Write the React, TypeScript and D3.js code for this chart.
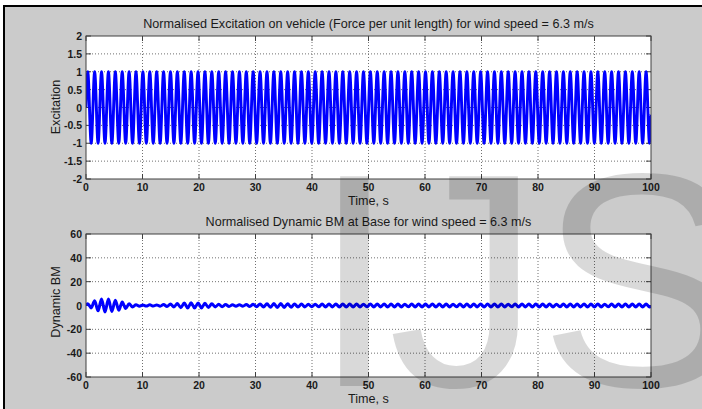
import React from "react";
import * as d3 from "d3";

// ---- data ----
const timeTicks = [0, 10, 20, 30, 40, 50, 60, 70, 80, 90, 100];
const excitationTicks = [-2, -1.5, -1, -0.5, 0, 0.5, 1, 1.5, 2];
const bmTicks = [-60, -40, -20, 0, 20, 40, 60];

// times (s) of the crests and troughs of the forcing cycle
const peakTimes = [
  0.31, 1.53, 2.75, 3.97, 5.19, 6.41, 7.63, 8.85, 10.07, 11.29, 12.51, 13.73, 14.95, 16.17,
  17.39, 18.61, 19.83, 21.05, 22.27, 23.49, 24.71, 25.93, 27.15, 28.37, 29.59, 30.81, 32.03,
  33.25, 34.47, 35.69, 36.91, 38.13, 39.35, 40.57, 41.79, 43.01, 44.23, 45.45, 46.67, 47.89,
  49.11, 50.33, 51.55, 52.77, 53.99, 55.21, 56.43, 57.65, 58.87, 60.09, 61.31, 62.53, 63.75,
  64.97, 66.19, 67.41, 68.63, 69.85, 71.07, 72.29, 73.51, 74.73, 75.95, 77.17, 78.39, 79.61,
  80.83, 82.05, 83.27, 84.49, 85.71, 86.93, 88.15, 89.37, 90.59, 91.81, 93.03, 94.25, 95.47,
  96.69, 97.91, 99.13,
];
const troughTimes = [
  0.92, 2.14, 3.36, 4.58, 5.8, 7.02, 8.24, 9.46, 10.68, 11.9, 13.12, 14.34, 15.56, 16.78,
  18.0, 19.22, 20.44, 21.66, 22.88, 24.1, 25.32, 26.54, 27.76, 28.98, 30.2, 31.42, 32.64,
  33.86, 35.08, 36.3, 37.52, 38.74, 39.96, 41.18, 42.4, 43.62, 44.84, 46.06, 47.28, 48.5,
  49.72, 50.94, 52.16, 53.38, 54.6, 55.82, 57.04, 58.26, 59.48, 60.7, 61.92, 63.14, 64.36,
  65.58, 66.8, 68.02, 69.24, 70.46, 71.68, 72.9, 74.12, 75.34, 76.56, 77.78, 79.0, 80.22,
  81.44, 82.66, 83.88, 85.1, 86.32, 87.54, 88.76, 89.98, 91.2, 92.42, 93.64, 94.86, 96.08,
  97.3, 98.52, 99.74,
];
const excitationCrest = 1;
const excitationTrough = -1;
const excitationStart = 0;
const excitationEnd = -0.2;

// dynamic bending moment at the crest / trough of each cycle
const bmPeakValues = [
  1.5, 4, 5.5, 5.5, 4.5, 3, 1.5, 0.6, 0.4, 0.6, 0.5, 0.8, 1.2, 1.6, 2.0, 2.3, 2.2, 1.8, 1.4,
  1.0, 0.8, 0.6, 0.6, 0.8, 1.0, 1.3, 1.5, 1.6, 1.6, 1.5, 1.3, 1.2, 1.0, 1.1, 1.2, 1.2, 1.3,
  1.3, 1.2, 1.2, 1.1, 1.2, 1.2, 1.3, 1.2, 1.2, 1.1, 1.2, 1.2, 1.2, 1.3, 1.2, 1.2, 1.1, 1.2,
  1.2, 1.2, 1.3, 1.2, 1.2, 1.2, 1.1, 1.2, 1.2, 1.3, 1.2, 1.2, 1.2, 1.1, 1.2, 1.2, 1.2, 1.3,
  1.2, 1.2, 1.1, 1.2, 1.2, 1.2, 1.2, 1.2, 1.2,
];
const bmTroughValues = [
  -2, -4.5, -5.5, -5, -4, -2.5, -1.2, -0.6, -0.5, -0.5, -0.6, -0.8, -1.2, -1.8, -2.0, -2.2,
  -2.0, -1.6, -1.2, -1.0, -0.8, -0.6, -0.6, -0.8, -1.0, -1.3, -1.5, -1.6, -1.6, -1.5, -1.3,
  -1.2, -1.0, -1.1, -1.2, -1.2, -1.3, -1.3, -1.2, -1.2, -1.1, -1.2, -1.2, -1.3, -1.2, -1.2,
  -1.1, -1.2, -1.2, -1.2, -1.3, -1.2, -1.2, -1.1, -1.2, -1.2, -1.2, -1.3, -1.2, -1.2, -1.2,
  -1.1, -1.2, -1.2, -1.3, -1.2, -1.2, -1.2, -1.1, -1.2, -1.2, -1.2, -1.3, -1.2, -1.2, -1.1,
  -1.2, -1.2, -1.2, -1.2, -1.2, -1.2,
];
const bmStart = 0;
const bmEnd = -0.3;

type Pt = [number, number];

function buildSeries(
  peaks: number[],
  troughs: number[],
  peakVal: (i: number) => number,
  troughVal: (i: number) => number,
  start: number,
  end: number
): Pt[] {
  const pts: Pt[] = [[0, start]];
  peaks.forEach((t, i) => {
    pts.push([t, peakVal(i)]);
    if (i < troughs.length) pts.push([troughs[i], troughVal(i)]);
  });
  pts.push([100, end]);
  return pts;
}

const excitationSeries = buildSeries(
  peakTimes,
  troughTimes,
  () => excitationCrest,
  () => excitationTrough,
  excitationStart,
  excitationEnd
);
const bmSeries = buildSeries(
  peakTimes,
  troughTimes,
  (i) => bmPeakValues[i],
  (i) => bmTroughValues[i],
  bmStart,
  bmEnd
);

// ---- layout ----
const W = 702;
const H = 409;
const X0 = 86;
const X1 = 651;
const FONT = "'Liberation Sans', Arial, sans-serif";
const TEXT = "#1a1a1a";

type PanelProps = {
  id: string;
  top: number;
  bottom: number;
  domain: [number, number];
  ticks: number[];
  series: Pt[];
  title: string;
  yLabel: string;
  yLabelY: number;
  lineWidth: number;
};

function Panel(p: PanelProps) {
  const x = d3.scaleLinear().domain([0, 100]).range([X0, X1]);
  const y = d3.scaleLinear().domain(p.domain).range([p.bottom, p.top]);
  const line = d3
    .line<Pt>()
    .x((d) => x(d[0]))
    .y((d) => y(d[1]))
    .curve(d3.curveMonotoneX);
  const tk = 5;
  return (
    <g>
      <defs>
        <clipPath id={p.id}>
          <rect x={X0} y={p.top} width={X1 - X0} height={p.bottom - p.top} />
        </clipPath>
      </defs>
      <rect x={X0} y={p.top} width={X1 - X0} height={p.bottom - p.top} fill="#fff" />
      {/* grid */}
      {timeTicks.slice(1, -1).map((t) => (
        <line key={"gx" + t} x1={x(t)} x2={x(t)} y1={p.top} y2={p.bottom}
          stroke="#707070" strokeWidth={1} strokeDasharray="1,2" />
      ))}
      {p.ticks.slice(1, -1).map((v) => (
        <line key={"gy" + v} x1={X0} x2={X1} y1={y(v)} y2={y(v)}
          stroke="#707070" strokeWidth={1} strokeDasharray="1,2" />
      ))}
      {/* inward tick marks */}
      {timeTicks.map((t) => (
        <g key={"tx" + t} stroke="#404040" strokeWidth={1}>
          <line x1={x(t)} x2={x(t)} y1={p.bottom} y2={p.bottom - tk} />
          <line x1={x(t)} x2={x(t)} y1={p.top} y2={p.top + tk} />
        </g>
      ))}
      {p.ticks.map((v) => (
        <g key={"ty" + v} stroke="#404040" strokeWidth={1}>
          <line x1={X0} x2={X0 + tk} y1={y(v)} y2={y(v)} />
          <line x1={X1} x2={X1 - tk} y1={y(v)} y2={y(v)} />
        </g>
      ))}
      <path d={line(p.series) || ""} fill="none" stroke="#0000ff"
        strokeWidth={p.lineWidth} strokeLinejoin="round" clipPath={`url(#${p.id})`} />
      <rect x={X0} y={p.top} width={X1 - X0} height={p.bottom - p.top}
        fill="none" stroke="#404040" strokeWidth={1} />
      {/* tick labels */}
      {timeTicks.map((t) => (
        <text key={"lx" + t} x={x(t)} y={p.bottom + 12} textAnchor="middle"
          fontFamily={FONT} fontWeight="bold" fontSize={10.5} fill={TEXT}>
          {String(t)}
        </text>
      ))}
      {p.ticks.map((v) => (
        <text key={"ly" + v} x={82} y={y(v) + 4} textAnchor="end"
          fontFamily={FONT} fontWeight="bold" fontSize={10.5} fill={TEXT}>
          {String(v)}
        </text>
      ))}
      <text x={(X0 + X1) / 2} y={p.top - 8} textAnchor="middle"
        fontFamily={FONT} fontSize={12.6} fill={TEXT}>
        {p.title}
      </text>
      <text x={(X0 + X1) / 2} y={p.bottom + 26} textAnchor="middle"
        fontFamily={FONT} fontSize={12.6} fill={TEXT}>
        Time, s
      </text>
      <text transform={`translate(60,${p.yLabelY}) rotate(-90)`} textAnchor="middle"
        fontFamily={FONT} fontSize={12.6} fill={TEXT}>
        {p.yLabel}
      </text>
    </g>
  );
}

export default function App() {
  return (
    <svg width={W} height={H} style={{ position: "absolute", left: 0, top: 0 }}>
      <rect x={0} y={0} width={W} height={H} fill="#fff" />
      <rect x={5} y={7} width={W - 5} height={H - 7} fill="#cbcbcb" />
      <rect x={3} y={5} width={W - 3} height={2} fill="#000" />
      <rect x={3} y={5} width={2} height={H - 5} fill="#000" />
      <Panel
        id="clip-exc"
        top={36}
        bottom={179}
        domain={[-2, 2]}
        ticks={excitationTicks}
        series={excitationSeries}
        title="Normalised Excitation on vehicle (Force per unit length) for wind speed = 6.3 m/s"
        yLabel="Excitation"
        yLabelY={107}
        lineWidth={2.9}
      />
      <Panel
        id="clip-bm"
        top={234}
        bottom={377}
        domain={[-60, 60]}
        ticks={bmTicks}
        series={bmSeries}
        title="Normalised Dynamic BM at Base for wind speed = 6.3 m/s"
        yLabel="Dynamic BM"
        yLabelY={302}
        lineWidth={3}
      />
      {/* watermark */}
      <g fontFamily={FONT} fontSize={305} fill="#000" fillOpacity={0.15}>
        <text x={312} y={386}>I</text>
        <text x={388} y={386}>J</text>
        <text x={539} y={386}>S</text>
      </g>
    </svg>
  );
}
